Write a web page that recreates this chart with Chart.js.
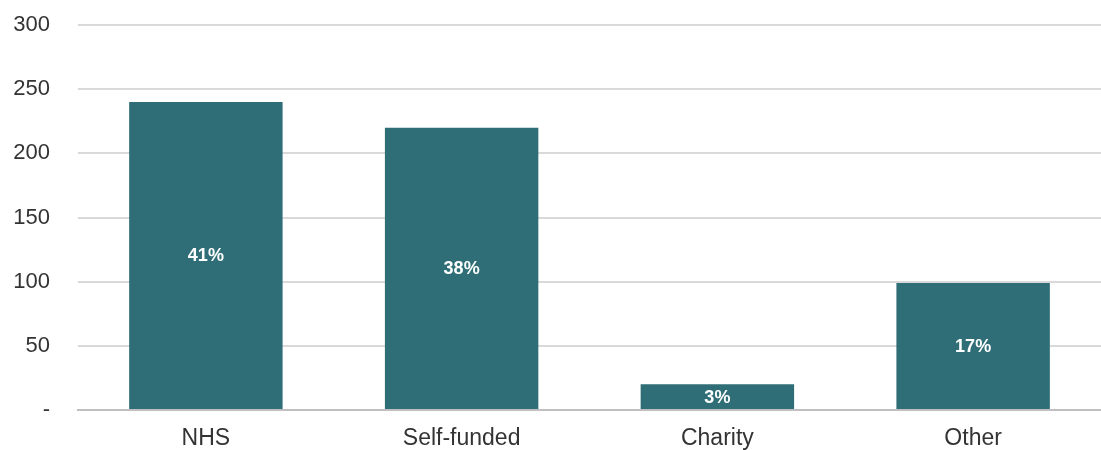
<!DOCTYPE html>
<html>
<head>
<meta charset="utf-8">
<script src="https://cdn.jsdelivr.net/npm/chart.js@4"></script>
<style>
  html, body { margin: 0; padding: 0; background: #fff; overflow: hidden; }
  #wrap { width: 1101px; height: 450px; }
</style>
</head>
<body>
<div id="wrap"><canvas id="bar-chart"></canvas></div>
<script>
const categories = ['NHS', 'Self-funded', 'Charity', 'Other'];
const counts = [240, 220, 20, 99];
const shares = ['41%', '38%', '3%', '17%'];

// draws the share text in the middle of each bar
const centreLabels = {
    id: 'centreLabels',
    afterDatasetsDraw(chart) {
        const { ctx } = chart;
        const meta = chart.getDatasetMeta(0);
        ctx.save();
        ctx.fillStyle = '#ffffff';
        ctx.font = 'bold 18px "Liberation Sans", Arial, sans-serif';
        ctx.textAlign = 'center';
        ctx.textBaseline = 'middle';
        meta.data.forEach((bar, i) => {
            const { x, y, base } = bar.getProps(['x', 'y', 'base'], true);
            ctx.fillText(shares[i], x, (y + base) / 2 + 1);
        });
        ctx.restore();
    }
};

const ctx = document.getElementById('bar-chart');
new Chart(ctx, {
    type: 'bar',
    data: {
        labels: categories,
        datasets: [{
            data: counts,
            backgroundColor: '#2f6e77',
            borderWidth: 0,
            barPercentage: 0.6,
            categoryPercentage: 1.0,
        }]
    },
    options: {
        responsive: true,
        maintainAspectRatio: false,
        animation: false,
        layout: { padding: { top: 25, left: 0, right: 0, bottom: 0 } },
        plugins: {
            legend: { display: false },
            tooltip: { enabled: false },
        },
        scales: {
            x: {
                afterFit(scale) { scale.height = 40; },
                grid: { display: false, drawTicks: false },
                border: { color: '#bfbfbf', width: 2 },
                ticks: {
                    color: '#333333',
                    padding: 15,
                    font: { family: '"Liberation Sans", Arial, sans-serif', size: 23 }
                }
            },
            y: {
                min: 0,
                max: 300,
                afterFit(scale) {
                    scale.width = 78;
                    scale.paddingTop = 0;
                    scale.paddingBottom = 0;
                },
                grid: { color: '#d9d9d9', lineWidth: 2, drawTicks: false },
                border: { display: false },
                ticks: {
                    stepSize: 50,
                    color: '#333333',
                    padding: 28,
                    font: { family: '"Liberation Sans", Arial, sans-serif', size: 22 },
                    callback: v => v === 0 ? '-' : v
                }
            }
        }
    },
    plugins: [centreLabels]
});
</script>
</body>
</html>
